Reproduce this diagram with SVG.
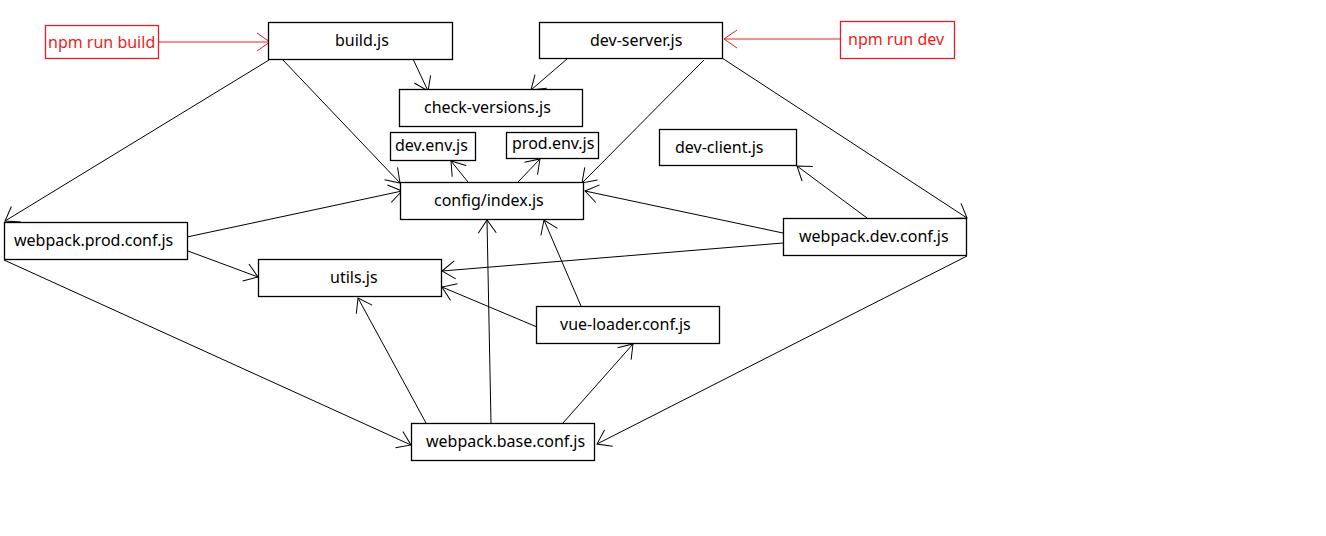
<svg xmlns="http://www.w3.org/2000/svg" width="1326" height="536" viewBox="0 0 1326 536">
<defs>
<style>
.box{fill:#fff;stroke:#000;stroke-width:1.3}
.red{fill:#fff;stroke:#ed1c24;stroke-width:1.3}
.t{font-family:"Noto Sans","Open Sans",sans-serif;font-size:16px;fill:#000}
.rt{font-family:"Noto Sans","Open Sans",sans-serif;font-size:16px;fill:#ed1c24}
.e{fill:none;stroke:#000;stroke-width:1;marker-end:url(#a)}
.er{fill:none;stroke:#ed1c24;stroke-width:1;marker-end:url(#ar)}
</style>
<marker id="a" viewBox="-15 -10 16 20" refX="0" refY="0" markerWidth="16" markerHeight="20" markerUnits="userSpaceOnUse" orient="auto">
<path d="M-13,-9 L0,0 L-13,9" fill="none" stroke="#000" stroke-width="1"/>
</marker>
<marker id="ar" viewBox="-15 -10 16 20" refX="0" refY="0" markerWidth="16" markerHeight="20" markerUnits="userSpaceOnUse" orient="auto">
<path d="M-13,-9 L0,0 L-13,9" fill="none" stroke="#ed1c24" stroke-width="1"/>
</marker>
</defs>
<rect width="1326" height="536" fill="#fff"/>
<g id="connectors">
<path class="er" d="M158,42 L213,42 L270,42"/>
<path class="er" d="M840,39 L724,39"/>
<path class="e" d="M413,59 L428,91"/>
<path class="e" d="M567,59 L531,90"/>
<path class="e" d="M269,60 L5,221"/>
<path class="e" d="M282,59 L400,183"/>
<path class="e" d="M704,60 L582,183"/>
<path class="e" d="M722,58 L967,218"/>
<path class="e" d="M468,182 L451,161"/>
<path class="e" d="M518,182 L540,159"/>
<path class="e" d="M187,237 L402,191"/>
<path class="e" d="M188,251 L258,277"/>
<path class="e" d="M783,233 L585,191"/>
<path class="e" d="M783,243 L442,271"/>
<path class="e" d="M867,218 L797,166"/>
<path class="e" d="M4,260 L411,445"/>
<path class="e" d="M967,256 L597,444"/>
<path class="e" d="M426,423 L358,298"/>
<path class="e" d="M491,423 L487,220"/>
<path class="e" d="M563,423 L633,344"/>
<path class="e" d="M537,327 L442,287"/>
<path class="e" d="M581,306 L544,220"/>
</g>
<g id="npm-run-build"><rect class="red" x="45.5" y="25.5" width="113" height="33"/><text class="rt" x="48" y="48">npm run build</text></g>
<g id="build-js"><rect class="box" x="268.5" y="22.5" width="184" height="37"/><text class="t" x="335" y="46">build.js</text></g>
<g id="dev-server-js"><rect class="box" x="539.5" y="22.5" width="183" height="36"/><text class="t" x="590" y="46">dev-server.js</text></g>
<g id="npm-run-dev"><rect class="red" x="840.5" y="21.5" width="114" height="37"/><text class="rt" x="848" y="45">npm run dev</text></g>
<g id="check-versions-js"><rect class="box" x="399.5" y="89.5" width="183" height="37"/><text class="t" x="424" y="113">check-versions.js</text></g>
<g id="dev-env-js"><rect class="box" x="390.5" y="132.5" width="85" height="28"/><text class="t" x="395" y="151">dev.env.js</text></g>
<g id="prod-env-js"><rect class="box" x="506.5" y="132.5" width="92" height="26"/><text class="t" x="512" y="149">prod.env.js</text></g>
<g id="dev-client-js"><rect class="box" x="659.5" y="129.5" width="137" height="36"/><text class="t" x="675" y="153">dev-client.js</text></g>
<g id="config-index-js"><rect class="box" x="400.5" y="182.5" width="183" height="37"/><text class="t" x="434" y="206">config/index.js</text></g>
<g id="webpack-prod-conf-js"><rect class="box" x="4.5" y="222.5" width="183" height="37"/><text class="t" x="14" y="246">webpack.prod.conf.js</text></g>
<g id="webpack-dev-conf-js"><rect class="box" x="783.5" y="218.5" width="183" height="37"/><text class="t" x="799" y="242">webpack.dev.conf.js</text></g>
<g id="utils-js"><rect class="box" x="258.5" y="259.5" width="183" height="37"/><text class="t" x="330" y="283">utils.js</text></g>
<g id="vue-loader-conf-js"><rect class="box" x="536.5" y="306.5" width="183" height="37"/><text class="t" x="560" y="330">vue-loader.conf.js</text></g>
<g id="webpack-base-conf-js"><rect class="box" x="411.5" y="423.5" width="183" height="37"/><text class="t" x="426" y="447">webpack.base.conf.js</text></g>
</svg>
